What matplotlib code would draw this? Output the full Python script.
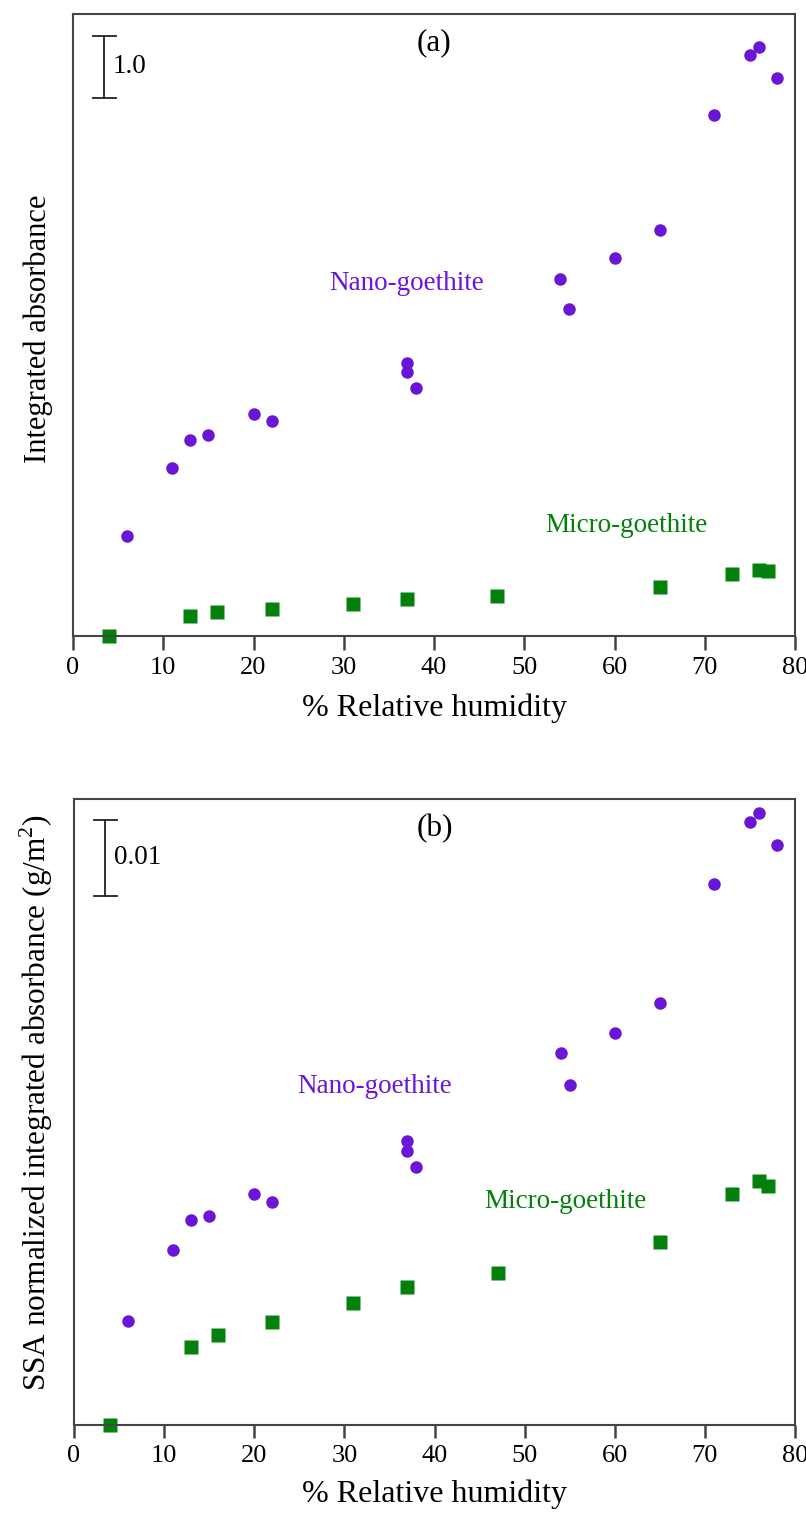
import matplotlib.pyplot as plt

plt.rcParams["font.family"] = ["Liberation Serif", "DejaVu Serif"]
plt.rcParams["mathtext.fontset"] = "custom"
plt.rcParams["mathtext.rm"] = "Liberation Serif"

PURPLE = "#6a16d6"
GREEN = "#04800c"
SPINE = "#444444"

# nano-goethite, relative humidity (%)
nano_rh = [6, 11, 13, 15, 20, 22, 37, 37, 38, 54, 55, 60, 65, 71, 75, 76, 78]
# integrated absorbance (a.u.)
nano_abs = [1.63, 2.73, 3.19, 3.26, 3.61, 3.49, 4.43, 4.29, 4.03,
            5.80, 5.31, 6.13, 6.58, 8.45, 9.42, 9.55, 9.05]
# SSA normalized (g/m^2)
nano_ssa = [0.01362, 0.02288, 0.02679, 0.02731, 0.03018, 0.02914, 0.03709,
            0.03579, 0.03370, 0.04857, 0.04439, 0.05117, 0.05508, 0.07060,
            0.07868, 0.07986, 0.07568]

# micro-goethite
micro_rh = [4, 13, 16, 22, 31, 37, 47, 65, 73, 76, 77]
micro_abs = [0.0, 0.33, 0.40, 0.45, 0.53, 0.61, 0.66, 0.80, 1.01, 1.08, 1.06]
micro_ssa = [0.0, 0.01023, 0.01180, 0.01349, 0.01597, 0.01806, 0.01988,
             0.02392, 0.03018, 0.03188, 0.03123]

fig = plt.figure(figsize=(8.06, 15.15), dpi=100)
ax1 = fig.add_axes([0.0906, 0.5799, 0.8958, 0.4109])
ax2 = fig.add_axes([0.0918, 0.0591, 0.8946, 0.4135])


def style(ax, ymax, ticklen, labelpad):
    ax.set_xlim(0, 80)
    ax.set_ylim(0, ymax)
    ax.set_xticks(range(0, 81, 10))
    ax.set_yticks([])
    for s in ax.spines.values():
        s.set_color(SPINE)
        s.set_linewidth(1.5)
    ax.tick_params(axis="x", direction="out", length=ticklen, width=1.8,
                   color=SPINE, labelsize=19, pad=5)
    ax.set_xlabel("% Relative humidity", fontsize=23, labelpad=labelpad)


def scale_bar(ax, y0, h, label):
    ax.plot([3.45, 3.45], [y0, y0 + h], color="#222222", lw=1.3)
    for yy in (y0, y0 + h):
        ax.plot([2.2, 4.8], [yy, yy], color="#222222", lw=1.3)
    ax.text(4.4, y0 + h / 2, label, fontsize=19.5, va="center", ha="left")


# (a)
style(ax1, 10.09, 10, 10)
ax1.plot(nano_rh, nano_abs, "o", color=PURPLE, ms=9, mec="none", clip_on=False)
ax1.plot(micro_rh, micro_abs, "s", color=GREEN, ms=10.5, mec="none", clip_on=False)
scale_bar(ax1, 8.73, 1.0, "1.0")
ax1.text(40, 9.62, "(a)", fontsize=22.5, ha="center", va="center")
ax1.text(37, 5.72, "Nano-goethite", color=PURPLE, fontsize=19.5,
         ha="center", va="center")
ax1.text(61.3, 1.8, "Micro-goethite", color=GREEN, fontsize=19.5,
         ha="center", va="center")
ax1.set_ylabel("Integrated absorbance", fontsize=22)
ax1.yaxis.set_label_coords(-0.028, 0.494)

# (b)
style(ax2, 0.08168, 9, 9)
ax2.plot(nano_rh, nano_ssa, "o", color=PURPLE, ms=9, mec="none", clip_on=False)
ax2.plot(micro_rh, micro_ssa, "s", color=GREEN, ms=10.5, mec="none", clip_on=False)
scale_bar(ax2, 0.0690, 0.01, "0.01")
ax2.text(40, 0.0778, "(b)", fontsize=22.5, ha="center", va="center")
ax2.text(33.35, 0.0442, "Nano-goethite", color=PURPLE, fontsize=19.5,
         ha="center", va="center")
ax2.text(54.5, 0.0292, "Micro-goethite", color=GREEN, fontsize=19.5,
         ha="center", va="center")
ax2.set_ylabel("SSA normalized integrated absorbance (g/m$^2$)", fontsize=22.5)
ax2.yaxis.set_label_coords(-0.027, 0.515)

fig.savefig("out.png", dpi=100)
